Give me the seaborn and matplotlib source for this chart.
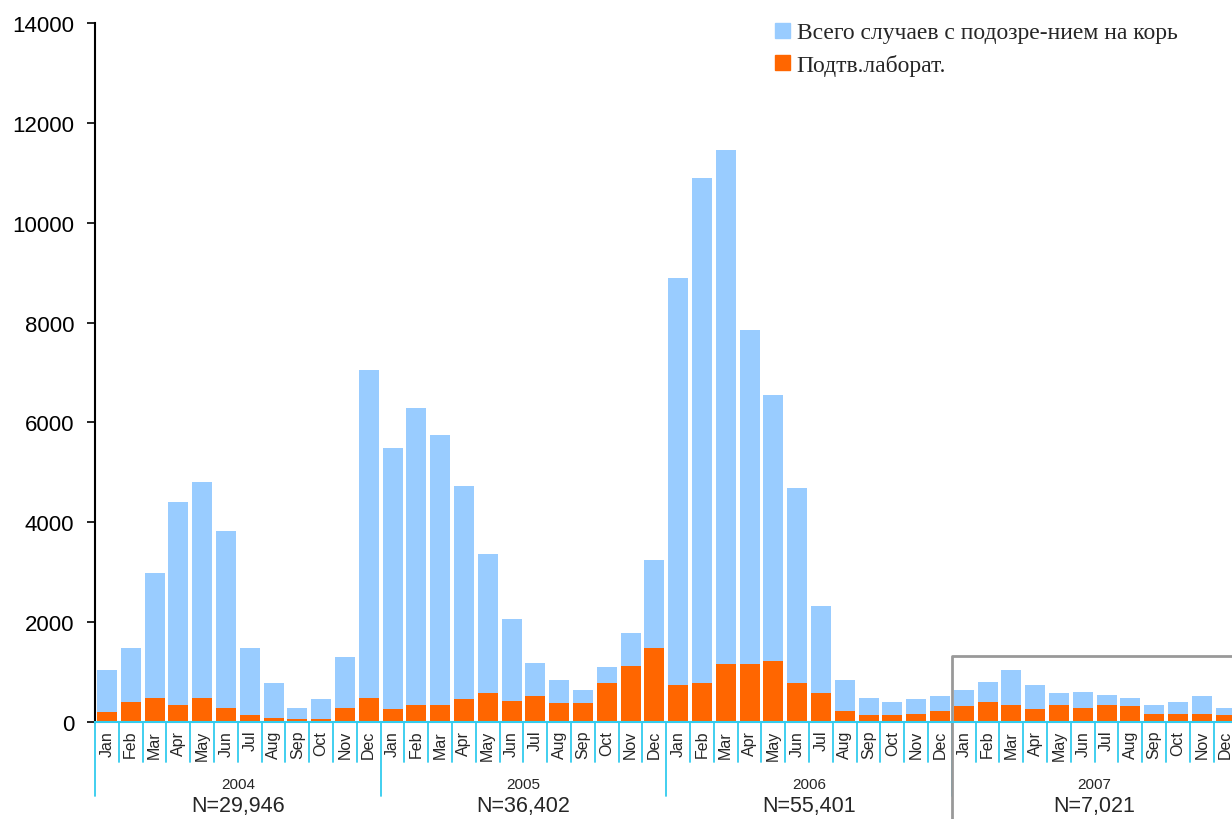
import numpy as np
import pandas as pd
import matplotlib
matplotlib.use("Agg")
import matplotlib.pyplot as plt
from matplotlib.patches import Patch
import seaborn as sns

# Monthly measles data, 2004-2007
years = ["2004", "2005", "2006", "2007"]
year_totals = ["N=29,946", "N=36,402", "N=55,401", "N=7,021"]
months = ["Jan", "Feb", "Mar", "Apr", "May", "Jun",
          "Jul", "Aug", "Sep", "Oct", "Nov", "Dec"]

total_cases = [
    1040, 1480, 2985, 4400, 4800, 3825, 1480, 780, 280, 460, 1300, 7050,   # 2004
    5490, 6290, 5750, 4730, 3365, 2065, 1180, 840, 640, 1100, 1780, 3245,  # 2005
    8890, 10895, 11460, 7850, 6550, 4690, 2325, 840, 480, 400, 460, 520,   # 2006
    640, 800, 1040, 740, 580, 600, 540, 480, 340, 400, 520, 280,           # 2007
]
confirmed_cases = [
    200, 400, 480, 340, 480, 280, 140, 80, 60, 60, 280, 480,
    260, 340, 340, 460, 580, 420, 520, 380, 380, 780, 1120, 1480,
    740, 780, 1160, 1160, 1220, 780, 580, 220, 140, 140, 160, 220,
    320, 400, 340, 260, 340, 280, 340, 320, 160, 160, 160, 140,
]

legend_total = "Всего случаев с подозре-нием на корь"
legend_conf = "Подтв.лаборат."

blue = "#99CCFF"
orange = "#FF6600"
cyan = "#33CCEE"

df = pd.DataFrame({
    "key": [f"{y}-{m}" for y in years for m in months],
    "month": months * len(years),
    "total": total_cases,
    "confirmed": confirmed_cases,
})

sns.set_style("white")
plt.rcParams["font.family"] = ["Liberation Sans", "DejaVu Sans"]

fig = plt.figure(figsize=(12.32, 8.2), dpi=100)
ax = fig.add_axes([95 / 1232, 97 / 820, 1 - 95 / 1232, (723 - 24) / 820])

sns.barplot(data=df, x="key", y="total", color=blue, saturation=1,
            width=0.84, errorbar=None, linewidth=0, ax=ax)
sns.barplot(data=df, x="key", y="confirmed", color=orange, saturation=1,
            width=0.84, errorbar=None, linewidth=0, ax=ax)

ax.set_xlim(-0.5, 47.27)
ax.set_ylim(0, 14000)
ax.set_yticks(np.arange(0, 14001, 2000))
ax.tick_params(axis="y", left=True, length=6, width=1.2, pad=9,
               labelsize=16, colors="black")
ax.tick_params(axis="x", bottom=False, labelbottom=False)
ax.set_xlabel("")
ax.set_ylabel("")
for s in ["top", "right"]:
    ax.spines[s].set_visible(False)
ax.spines["left"].set_color("black")
ax.spines["left"].set_linewidth(1.5)
ax.spines["bottom"].set_color(cyan)
ax.spines["bottom"].set_linewidth(1.5)

# value per pixel below the axis
vpp = 14000 / 699.0

def py(px):
    return -(px - 723) * vpp

# month labels and separators
for i, m in enumerate(df["month"]):
    ax.text(i, py(731), m, rotation=90, ha="center", va="top",
            fontsize=11.5, clip_on=False)
for i in range(len(df) + 1):
    b = i - 0.5
    if i % 12 == 0:
        ax.plot([b, b], [0, py(797)], color=cyan, lw=1.3, clip_on=False)
    else:
        ax.plot([b, b], [0, py(763)], color=cyan, lw=1.3, clip_on=False)

# year labels with counts
for k, (y, n) in enumerate(zip(years, year_totals)):
    cx = k * 12 + 5.5
    ax.text(cx, py(785), y, ha="center", va="center", fontsize=11, clip_on=False)
    ax.text(cx, py(807), n, ha="center", va="center", fontsize=15.5, clip_on=False)

# grey box around 2007
ax.plot([35.5, 35.5, 50], [py(850), py(657), py(657)], color="#999999",
        lw=2, clip_on=False)

handles = [Patch(color=blue), Patch(color=orange)]
fig.legend(handles, [legend_total, legend_conf], loc="upper left",
           bbox_to_anchor=(766 / 1232, 1 - 14 / 820), frameon=False,
           prop={"family": "Liberation Serif", "size": 17},
           handlelength=0.6, handleheight=0.6, handletextpad=0.3,
           labelspacing=0.45, borderaxespad=0)

fig.savefig("out.png", dpi=100)
